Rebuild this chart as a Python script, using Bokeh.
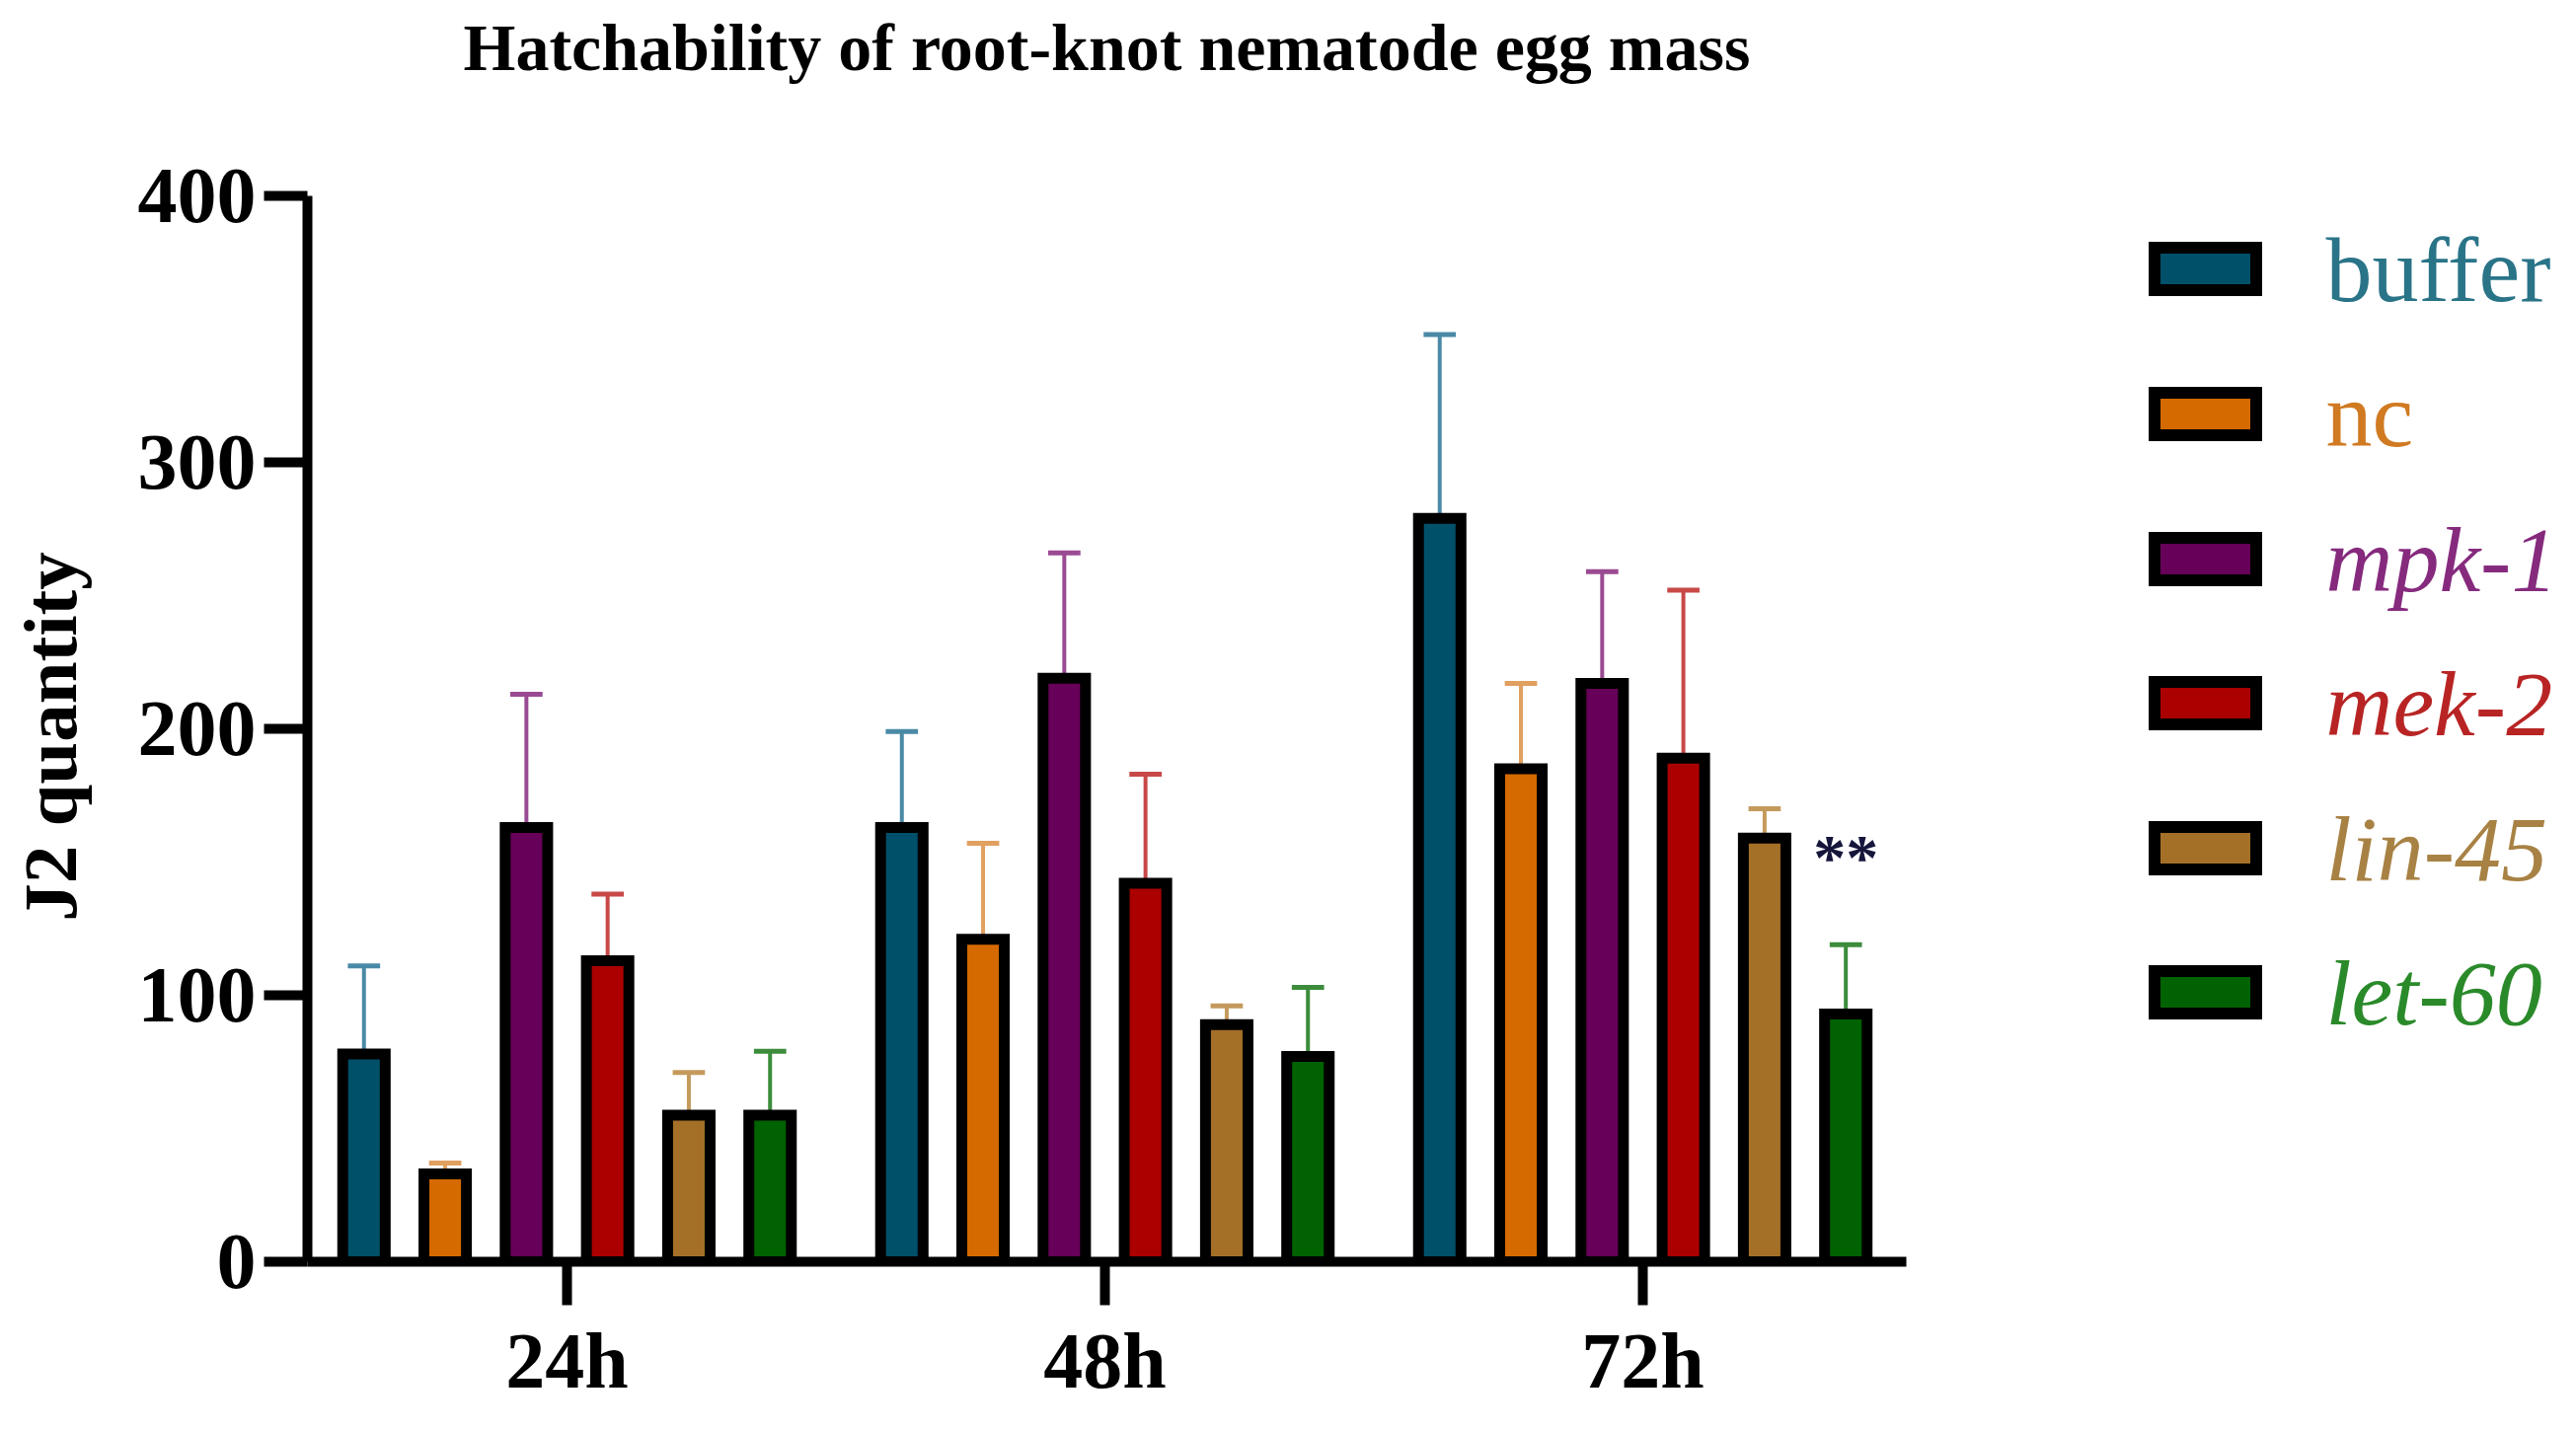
import math
from bokeh.plotting import figure
from bokeh.models import ColumnDataSource, FixedTicker, Range1d
from bokeh.layouts import row
from bokeh.embed import file_html
from bokeh.resources import INLINE
from bokeh.core.properties import value

# ---------------- data ----------------
title_text = "Hatchability of root-knot nematode egg mass"
y_label = "J2 quantity"
groups = ["24h", "48h", "72h"]
series = ["buffer", "nc", "mpk-1", "mek-2", "lin-45", "let-60"]
means = {
    "buffer": [78, 163, 279],
    "nc":     [33, 121, 185],
    "mpk-1":  [163, 219, 217],
    "mek-2":  [113, 142, 189],
    "lin-45": [55, 89, 159],
    "let-60": [55, 77, 93],
}
errors = {
    "buffer": [33, 36, 69],
    "nc":     [4, 36, 32],
    "mpk-1":  [50, 47, 42],
    "mek-2":  [25, 41, 63],
    "lin-45": [16, 7, 11],
    "let-60": [24, 26, 26],
}
yticks = [0, 100, 200, 300, 400]
signif_series = "let-60"
signif_group = 2
signif_y = 152
signif_text = "**"

fill_colors = ["#00506a", "#d46a00", "#660058", "#aa0000", "#a47028", "#006200"]
err_colors = ["#4a8aa6", "#e0a060", "#9a4a92", "#c84848", "#c49a5c", "#3c8c3c"]
text_colors = ["#2a7488", "#d07a22", "#862a7e", "#b82424", "#a88244", "#2a8a2a"]
italic = [False, False, True, True, True, True]

FONT = "Liberation Serif"
W, H = 2594, 1433
LBW = 110                 # y-label panel width
MAIN_W = 1890             # main plot width
FRAME_L, FRAME_R = 311, 1931
AXIS_TOP, BOTTOM = 198, 1278          # pixel rows of the 400 and 0 values
X0, X1 = -0.4826, 2.49
Y0, YMAX = 0, 400
PX = (YMAX - Y0) / (BOTTOM - AXIS_TOP)   # data units per pixel
Y1 = YMAX + AXIS_TOP * PX                # frame reaches canvas top

# ---------------- y label panel ----------------
lab = figure(width=LBW, height=H, output_backend="svg", toolbar_location=None,
             x_range=Range1d(0, LBW), y_range=Range1d(BOTTOM, 0),
             x_axis_location=None, y_axis_location=None,
             min_border_left=0, min_border_right=0,
             min_border_top=0, min_border_bottom=H - BOTTOM)
lab.outline_line_color = None
lab.grid.visible = False
lab.text(x=[50], y=[746], text=[y_label], angle=math.pi / 2,
         text_font=value(FONT), text_font_size="77px", text_font_style="bold",
         text_color="black", text_align="center", text_baseline="middle")

# ---------------- main plot ----------------
p = figure(width=MAIN_W, height=H, output_backend="svg", toolbar_location=None,
           x_range=Range1d(X0, X1), y_range=Range1d(Y0, Y1),
           min_border_left=FRAME_L - LBW, min_border_right=LBW + MAIN_W - FRAME_R,
           min_border_top=0, min_border_bottom=H - BOTTOM)
p.outline_line_color = None
p.grid.visible = False
p.background_fill_color = "white"

# title drawn as text at top of the (tall) frame
p.text(x=[(X0 + X1) / 2], y=[Y1 - 47 * PX], text=[title_text],
       text_font=value(FONT), text_font_size="68px", text_font_style="bold",
       text_color="black", text_align="center", text_baseline="middle")

spacing = 0.151
bar_w = 0.079
cap_half = 0.03

for i, s in enumerate(series):
    xs = [g + (i - 2.5) * spacing for g in range(len(groups))]
    tops = [m + e for m, e in zip(means[s], errors[s])]
    src = ColumnDataSource(dict(x=xs, m=means[s], t=tops,
                                x0=[x - cap_half for x in xs],
                                x1=[x + cap_half for x in xs]))
    p.segment(x0="x", y0="m", x1="x", y1="t", source=src,
              line_color=err_colors[i], line_width=4)
    p.segment(x0="x0", y0="t", x1="x1", y1="t", source=src,
              line_color=err_colors[i], line_width=5)
    p.vbar(x="x", top="m", bottom=0, width=bar_w, source=src,
           fill_color=fill_colors[i], line_color="black", line_width=11,
           line_join="miter")

si = series.index(signif_series)
p.text(x=[signif_group + (si - 2.5) * spacing], y=[signif_y], text=[signif_text],
       text_font=value(FONT), text_font_size="66px", text_font_style="bold",
       text_color="#16163c", text_align="center", text_baseline="middle")

for ax in (p.xaxis[0], p.yaxis[0]):
    ax.axis_line_width = 10
    ax.axis_line_color = "black"
    ax.major_tick_line_width = 10
    ax.major_tick_line_color = "black"
    ax.major_tick_out = 44
    ax.major_tick_in = 0
    ax.minor_tick_line_color = None
    ax.major_label_text_font = FONT
    ax.major_label_text_font_style = "bold"
    ax.major_label_text_font_size = "80px"
    ax.major_label_text_color = "black"

p.xaxis.ticker = FixedTicker(ticks=list(range(len(groups))))
p.xaxis.major_label_overrides = {i: g for i, g in enumerate(groups)}
p.xaxis.major_label_standoff = 12
p.yaxis.ticker = FixedTicker(ticks=yticks)
p.yaxis.bounds = (Y0, YMAX)
p.yaxis.major_label_standoff = 8

# ---------------- legend panel ----------------
LW = W - LBW - MAIN_W
lg = figure(width=LW, height=H, output_backend="svg", toolbar_location=None,
            x_range=Range1d(0, LW), y_range=Range1d(BOTTOM, 0),
            x_axis_location=None, y_axis_location=None,
            min_border_left=0, min_border_right=0,
            min_border_top=0, min_border_bottom=H - BOTTOM)
lg.outline_line_color = None
lg.grid.visible = False

row_y = [272, 419, 566, 712, 859, 1005]
lg.rect(x=[234] * len(series), y=row_y, width=103, height=43,
        fill_color=fill_colors, line_color="black", line_width=12, line_join="miter")
norm = [k for k in range(len(series)) if not italic[k]]
ital = [k for k in range(len(series)) if italic[k]]
for idx, style in ((norm, "normal"), (ital, "italic")):
    lg.text(x=[356] * len(idx), y=[row_y[k] for k in idx],
            text=[series[k] for k in idx], text_color=[text_colors[k] for k in idx],
            text_font=value(FONT), text_font_size="94px", text_font_style=style,
            text_align="left", text_baseline="middle")

layout = row(lab, p, lg)
open("out.html", "w").write(file_html(layout, INLINE))
